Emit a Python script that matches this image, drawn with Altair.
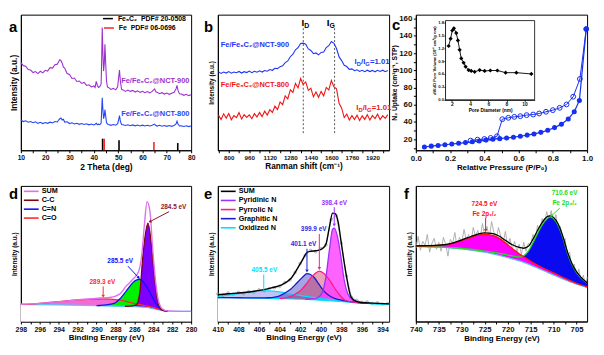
import altair as alt
import pandas as pd

FONT = "Liberation Sans"
H = 137
W_A = 172
W_B = 173

# ---------------- (a) XRD ----------------
xrd_theta = [10, 11, 12, 13, 14, 15, 16, 17, 18, 19, 20, 21, 22, 23, 24, 25,
             25.5, 26, 26.5, 27, 27.5, 28,
             29, 30, 31, 32, 33, 34, 35, 36, 37, 38, 39, 40,
             40.5, 41, 41.5, 42, 42.5, 43,
             43.25, 43.45, 43.7, 44, 44.3, 44.55, 44.8, 45.2, 45.6, 46,
             47, 48, 49,
             49.8, 50.3, 50.55, 50.9, 51.4, 52,
             53, 54, 55, 56, 57, 58, 59, 60, 61, 62, 63, 64, 65,
             65.5,
             66, 67, 68, 69, 70, 71, 72, 73,
             73.8, 74.2, 74.6, 75.2,
             76, 77, 78, 79, 80]
xrd_nct900 = [88.5, 85.5, 85, 81.5, 81, 78.5, 79.5, 77.5, 79.8, 78.2, 80.8, 80, 83.5, 83, 86.5, 87,
              89.5, 91.5, 90.5, 88, 84, 83,
              77.5, 76.5, 72.5, 73, 69.5, 70, 67.5, 68.5, 65.5, 66.2, 64, 65,
              63.5, 69.5, 65, 63.5, 64.5, 67,
              95, 124, 100, 80, 88, 107, 92, 70, 64, 63.5,
              61.5, 62.5, 61,
              64, 76, 81, 70, 61.5, 61,
              59.5, 60.8, 59.5, 60.5, 58.8, 60, 58.5, 59.5, 58.2, 59.3, 58, 59.5, 62,
              59,
              58.5, 57.2, 58.2, 56.8, 57.8, 56.5, 57.6, 58.5,
              62, 65.5, 60.5, 57,
              56.8, 55.5, 56.5, 55.2, 56]
xrd_nct800 = [30.5, 29, 29.8, 28.3, 29, 27.8, 28.7, 27.2, 28.3, 27, 28, 27.2, 28.4, 27.6, 29, 28.6,
              30.5, 31.8, 32.5, 30.5, 31.2, 28.5,
              28.8, 27, 27.8, 26.5, 27.3, 26.2, 27, 26, 26.8, 25.7, 26.5, 25.6,
              26.3, 27.2, 25.8, 26.4, 25.9, 27.5,
              42, 53, 42, 32, 35, 41, 36, 28, 26.5, 26,
              25.2, 26, 25.3,
              26.8, 32, 35, 29.5, 26, 25.7,
              25, 25.8, 24.8, 25.6, 24.7, 25.5, 24.6, 25.4, 24.5, 25.3, 24.6, 25.2, 26.4,
              25,
              24.4, 25.2, 24.3, 25, 24.2, 25, 24.2, 25,
              26.5, 29.3, 26.5, 24.5,
              24.8, 24, 24.8, 23.9, 24.5]
fe5c2_pos = [43.6, 50.35, 74.5]
fe5c2_h = [11.7, 10.0, 7.3]
fe_pos = [44.25, 64.7]
fe_h = [11.7, 8.3]

# ---------------- (b) Raman ----------------
raman_x = list(range(720, 2041, 20))
raman_nct900 = [79.2, 77.6, 79.0, 78.0, 79.5, 77.9, 79.1, 78.3, 79.6, 78.0,
                79.4, 78.5, 80.0, 78.4, 79.8, 78.8, 80.2, 79.0, 80.6, 79.8,
                81.5, 80.8, 82.8, 82.5, 84.5, 85.3, 88.6, 90.2, 94.5, 97.0,
                101.5, 103.6, 107.8, 108.2, 107.2, 102.4, 100.8, 97.6, 98.3, 96.4,
                98.8, 99.2, 103.8, 105.6, 109.8, 108.0, 102.8, 94.3, 90.6, 85.8,
                84.6, 81.8, 82.2, 80.4, 81.3, 79.6, 80.8, 79.4, 80.9, 79.5,
                80.7, 79.3, 80.8, 79.6, 80.9, 79.4, 80.6]
raman_nct800 = [35.5, 31.0, 36.8, 32.5, 37.2, 30.8, 35.0, 33.0, 38.0, 31.5,
                36.0, 33.2, 35.8, 31.9, 37.0, 33.5, 38.2, 34.0, 39.5, 35.6,
                41.0, 38.2, 44.5, 41.0, 48.8, 46.0, 55.0, 52.0, 61.0, 58.5,
                67.5, 63.0, 72.5, 66.5, 69.0, 60.5, 62.8, 54.0, 59.0, 53.5,
                59.5, 55.0, 63.5, 61.0, 70.5, 64.0, 62.0, 47.5, 42.5, 33.0,
                36.5, 30.5, 35.0, 31.0, 35.5, 30.0, 34.8, 31.2, 36.0, 30.5,
                35.2, 32.0, 36.5, 31.0, 35.0, 32.2, 36.0]
band_d = 1381
band_g = 1625

# ---------------- (c) N2 isotherm + pore size ----------------
ads_p = [0.05, 0.09, 0.13, 0.17, 0.21, 0.25, 0.29, 0.33, 0.37, 0.41, 0.45, 0.49, 0.53,
         0.57, 0.61, 0.65, 0.69, 0.73, 0.77, 0.81, 0.85, 0.89, 0.925, 0.955, 0.995]
ads_v = [11, 12, 12.8, 13.6, 14.5, 15.3, 16.1, 17, 18, 19, 20, 20.7, 21.5,
         22.4, 23.5, 24.8, 26.2, 28, 30.5, 33.5, 37.5, 43.5, 52, 65, 148]
des_p = [0.995, 0.958, 0.919, 0.88, 0.84, 0.80, 0.76, 0.72, 0.685, 0.647, 0.61, 0.575,
         0.54, 0.505, 0.474, 0.437, 0.40, 0.36, 0.32]
des_v = [148, 90, 69.4, 60.4, 56.5, 53.8, 51.9, 49.9, 48.7, 48, 46.8, 46,
         44.9, 43.3, 23.5, 21.5, 20.3, 19.5, 18.4]
pore_d = [1.64, 1.86, 2.04, 2.22, 2.48, 2.66, 2.85, 3.03, 3.29, 3.51, 3.84, 4.13, 4.5,
          5.05, 5.6, 6.23, 7.0, 7.91, 9.09, 10.74]
pore_v = [1.25, 1.42, 1.61, 1.66, 1.55, 1.38, 1.16, 0.96, 0.86, 0.77, 0.69, 0.67, 0.65,
          0.69, 0.67, 0.68, 0.68, 0.63, 0.63, 0.60]

# ---------------- (d) C 1s ----------------
c_base_x = [298, 294, 290, 288, 286, 285, 284.5, 284, 283.5, 283, 282, 280]
c_base_y = [17.3, 16.8, 16.0, 15.5, 15.0, 14.5, 14.0, 13.0, 12.0, 11.0, 10.4, 10.3]
co_x = [298, 297, 296, 295, 294, 293, 292, 291, 290, 289.3, 288.6, 288, 287.5, 287,
        286.5, 286, 285.5, 285, 284.5, 284, 283.5, 283, 282.5]
co_y = [17.3, 17.6, 18.3, 19.2, 20.1, 21.0, 21.8, 22.4, 22.7, 22.8, 22.6, 22.2, 21.5, 20.6,
        19.4, 18.2, 17.2, 16.3, 15.3, 14.0, 12.6, 11.3, 10.6]
cn_x = [290, 289.64, 288.5, 288, 287.55, 286.85, 286.16, 285.8, 285.53, 285.2, 284.77,
        284.4, 284.07, 283.8, 283.55, 283.3, 283.03, 282.5]
cn_y = [16.0, 16.2, 17.6, 19.0, 22.7, 31.0, 39.3, 41.8, 42.7, 41.5, 36.0,
        30.0, 24.3, 19.5, 16.0, 13.5, 11.7, 10.5]
cc_x = [287, 286.5, 286, 285.8, 285.6, 285.4, 285.12, 284.84, 284.56, 284.24, 283.9,
        283.55, 283.2, 283, 282.5]
cc_y = [15.4, 15.6, 16.3, 17.0, 20.5, 31.0, 64.3, 87.7, 99.3, 81.0, 47.7,
        21.0, 12.7, 11.3, 10.5]
csum_x = [298, 296, 294, 292, 290.5, 289.64, 288.6, 287.55, 286.85, 286.16, 285.53, 285.18,
          284.94, 284.66, 284.35, 284.07, 283.8, 283.45, 283.03, 282.5, 281, 280]
csum_y = [17.4, 18.3, 20.0, 21.9, 23.0, 23.7, 24.3, 27.7, 36.0, 42.7, 51.0, 71.0,
          97.7, 121.0, 111.0, 74.3, 44.3, 21.0, 12.7, 10.8, 10.3, 10.3]

# ---------------- (e) N 1s ----------------
n_base_x = [410, 408, 406, 404, 402, 400, 398.5, 397, 396, 395, 393.36]
n_base_y = [24.2, 24.0, 23.6, 23.1, 22.5, 21.6, 20.6, 19.4, 18.6, 18.0, 17.5]
oxi_x = [410, 409, 408, 407, 406.2, 405.6, 405, 404.2, 403.4, 402.6, 401.8, 401, 400,
         399, 398, 397, 396, 395, 393.36]
oxi_y = [25.5, 26.8, 28.2, 29.6, 30.6, 31.0, 30.9, 30.2, 29.0, 27.5, 26.0, 24.7, 23.2,
         22.0, 21.0, 19.8, 18.9, 18.2, 17.5]
gra_x = [410, 408, 406, 405, 404.5, 404, 403.54, 403, 402.5, 402, 401.6, 401.34, 401,
         400.6, 400.2, 399.8, 399.3, 398.8, 398.2, 397.5, 396.5, 395.5]
gra_y = [24.2, 24.0, 23.8, 24.0, 24.6, 26.0, 28.4, 32.0, 37.0, 42.5, 46.5, 48.4, 47.5,
         44.0, 38.0, 32.0, 27.0, 24.0, 22.0, 20.5, 19.3, 18.4]
pyr_x = [404, 403, 402.5, 401.92, 401.4, 400.95, 400.5, 400.14, 399.75, 399.33, 398.9,
         398.53, 398.1, 397.72, 397.2, 396.5, 395.5]
pyr_y = [23.1, 25.0, 27.5, 31.7, 38.0, 44.4, 49.0, 51.0, 49.0, 44.4, 38.0,
         31.7, 26.0, 22.0, 20.0, 19.2, 18.3]
pyd_x = [401.5, 400.8, 400.3, 399.82, 399.5, 399.17, 398.85, 398.69, 398.36, 398.04,
         397.72, 397.39, 396.9, 396.4, 395.5]
pyd_y = [22.4, 22.8, 24.0, 30.0, 45.0, 71.7, 93.4, 94.4, 85.0, 65.0,
         41.7, 28.4, 21.7, 19.8, 18.5]
nsum_x = [410, 409, 407.7, 405.8, 404.8, 403.86, 402.9, 401.9, 401.3, 400.95, 400.5, 400.1,
          399.8, 399.5, 399.17, 398.85, 398.6, 398.3, 398.04, 397.55, 397.07, 396.6, 396.1,
          395, 393.36]
nsum_y = [27.0, 28.0, 29.0, 31.7, 34.0, 36.7, 43.4, 60.0, 70.0, 71.0, 71.5, 72.4,
          74.0, 78.0, 95.0, 109.5, 109.0, 100.0, 81.7, 48.4, 25.0, 20.5, 19.2,
          18.6, 17.8]
nraw_x = [410, 409.5, 409, 408.5, 408, 407.5, 407, 406.5, 406, 405.5, 405, 404.5, 404,
          403.5, 403, 402.5, 402, 401.5, 401, 400.5, 400, 399.5, 399, 398.5, 398, 397.5,
          397, 396.5, 396, 395.5, 395, 394.5, 394, 393.5]
nraw_y = [27.8, 26.5, 28.9, 27.6, 29.4, 28.2, 30.3, 29.8, 31.9, 31.0, 33.2, 34.1, 35.5,
          39.2, 42.0, 49.5, 58.5, 66.8, 71.8, 70.6, 73.5, 77.5, 103, 107, 79, 46,
          24.5, 21.4, 19.4, 19.8, 18.1, 18.9, 17.5, 18.2]

# ---------------- (f) Fe 2p ----------------
fe_x = [740, 737.5, 735, 732.5, 730, 728, 726.5, 725, 723.5, 722, 720.5, 719, 717.5,
        716.5, 715.5, 714.5, 713.5, 712.5, 711.5, 710.8, 710, 709, 708, 707, 706, 705,
        704, 702.7]
fe_bg = [75.8, 75.4, 75.0, 74.3, 73.3, 72.1, 71.0, 70.0, 68.6, 67.0, 65.2, 63.3, 61.3,
         59.8, 58.0, 56.0, 54.0, 52.0, 50.0, 48.6, 47.0, 45.0, 43.0, 41.2, 39.4, 37.8,
         36.3, 34.7]
fe_2p12 = [76.3, 76.4, 76.8, 78.3, 81.8, 85.0, 87.2, 88.0, 87.3, 84.5, 79.5, 73.8, 68.5,
           65.5, 62.5, 59.5, 57.0, 54.6, 52.4, 50.9, 49.2, 47.0, 44.7, 42.6, 40.5, 38.6,
           36.9, 34.9]
fe_2p32 = [76.0, 75.7, 75.3, 74.7, 74.0, 73.0, 72.0, 71.2, 70.2, 69.0, 67.7, 66.3, 65.2,
           66.5, 71.0, 79.5, 89.0, 97.5, 103.5, 105.7, 104.0, 97.0, 85.0, 69.5, 57.5, 49.5,
           44.0, 39.0]
fe_sum = [76.5, 76.7, 77.1, 78.7, 82.5, 85.9, 88.2, 89.5, 89.0, 86.6, 82.0, 77.5, 74.8,
          74.0, 76.0, 83.0, 92.0, 100.0, 105.5, 106.8, 105.2, 98.5, 86.5, 70.8, 58.6, 50.3,
          44.6, 39.2]
fe_raw_x = [740, 739.5, 739, 738.5, 738, 737.5, 737, 736.5, 736, 735.5,
            735, 734.5, 734, 733.5, 733, 732.5, 732, 731.5, 731, 730.5,
            730, 729.5, 729, 728.5, 728, 727.5, 727, 726.5, 726, 725.5,
            725, 724.5, 724, 723.5, 723, 722.5, 722, 721.5, 721, 720.5,
            720, 719.5, 719, 718.5, 718, 717.5, 717, 716.5, 716, 715.5,
            715, 714.5, 714, 713.5, 713, 712.5, 712, 711.5, 711, 710.5,
            710, 709.5, 709, 708.5, 708, 707.5, 707, 706.5, 706, 705.5,
            705, 704.5, 704, 703.5, 703, 702.7]
fe_raw_y = [74, 86, 72, 81, 77, 88, 70, 79, 84, 73,
            80, 71, 85, 78, 66, 83, 79, 90, 74, 85,
            80, 93, 82, 88, 79, 95, 86, 92, 83, 99,
            87, 96, 84, 101, 90, 82, 95, 86, 79, 91,
            76, 84, 73, 81, 70, 78, 68, 80, 71, 79,
            77, 88, 82, 97, 90, 104, 98, 111, 103, 112,
            99, 108, 92, 96, 80, 84, 66, 70, 53, 58,
            44, 53, 40, 47, 34, 45]

# ---------------- colours ----------------
PURPLE = "#9B30D0"
BLUE_A = "#2846F5"
BLUE_B = "#2035F5"
RED_B = "#F01515"
BLUE_C = "#1730F0"


# ---------------- helpers ----------------
def xaxis(values, major, title, lsize, tsize, fmt="datum.label"):
    return alt.Axis(values=values, title=title, labelExpr=f"({major}) ? {fmt} : ''",
                    tickSize=2.5, labelOverlap=False, labelFlush=False, grid=False,
                    labelFontSize=lsize, titleFontSize=tsize, labelPadding=1.5,
                    titlePadding=1.5)


def yblank(tsize, pad=3):
    return alt.Axis(title="Intensity (a.u.)", labels=False, ticks=False, grid=False,
                    titleFontSize=tsize, titlePadding=pad)


def lines(xs, ys, color, E, width=1.0, interp=None, dash=None, opacity=1.0):
    kw = dict(color=color, strokeWidth=width, opacity=opacity)
    if interp:
        kw["interpolate"] = interp
    if dash:
        kw["strokeDash"] = dash
    return alt.Chart(pd.DataFrame({"x": xs, "y": ys})).mark_line(**kw).encode(**E)


def area(xs, ys, color, E, opacity=1.0, y2s=None, interp="monotone"):
    d = {"x": xs, "y": ys}
    enc = dict(E)
    if y2s is not None:
        d["y2"] = y2s
        enc["y2"] = alt.Y2("y2:Q")
    return alt.Chart(pd.DataFrame(d)).mark_area(color=color, opacity=opacity,
                                                interpolate=interp).encode(**enc)


def pts(xs, ys, color, E, shape="circle", size=26, filled=True, sw=1.0):
    return alt.Chart(pd.DataFrame({"x": xs, "y": ys})).mark_point(
        shape=shape, size=size, filled=filled, color=color, opacity=1,
        strokeWidth=sw).encode(**E)


def sticks(pos, hs, color, E):
    d = pd.DataFrame({"x": pos, "y": [0] * len(pos), "y2": hs})
    return alt.Chart(d).mark_rule(color=color, strokeWidth=1.6).encode(
        x=E["x"], y=E["y"], y2="y2:Q")


def txt(x, y, s, color, size, E, align="center", baseline="middle", dx=0, dy=0):
    return alt.Chart(pd.DataFrame({"x": [x], "y": [y], "t": [s]})).mark_text(
        color=color, fontSize=size, font=FONT, fontWeight="bold", align=align,
        baseline=baseline, dx=dx, dy=dy).encode(x=E["x"], y=E["y"], text="t:N")


def ptxt(px, py, s, color, size, align="left", baseline="middle"):
    return alt.Chart(pd.DataFrame({"t": [s]})).mark_text(
        color=color, fontSize=size, font=FONT, fontWeight="bold", align=align,
        baseline=baseline).encode(x=alt.value(px), y=alt.value(py), text="t:N")


def prule(x1, x2, py, color, width=1.5):
    return alt.Chart(pd.DataFrame({"k": [0]})).mark_rule(
        color=color, strokeWidth=width).encode(x=alt.value(x1), x2=alt.value(x2),
                                               y=alt.value(py))


def seg(x1, y1, x2, y2, color, E, width=1.0, dash=None):
    kw = dict(color=color, strokeWidth=width)
    if dash:
        kw["strokeDash"] = dash
    d = pd.DataFrame({"x": [x1], "y": [y1], "x2": [x2], "y2": [y2]})
    return alt.Chart(d).mark_rule(**kw).encode(x=E["x"], y=E["y"], x2="x2:Q", y2="y2:Q")


def head(x, y, angle, color, E, size=12):
    return alt.Chart(pd.DataFrame({"x": [x], "y": [y]})).mark_point(
        shape="triangle-up", angle=angle, filled=True, color=color, size=size,
        opacity=1).encode(x=E["x"], y=E["y"])


def legend(entries, y0, dy, x1=3, x2=18, xt=21, size=7.3):
    out = []
    for i, (lab, col) in enumerate(entries):
        yy = y0 + i * dy
        out.append(prule(x1, x2, yy, col, 1.6))
        out.append(ptxt(xt, yy, lab, "black", size))
    return out


# ---------------- panels ----------------
def panel_a():
    X = alt.X("x:Q", scale=alt.Scale(domain=[10, 80], nice=False, zero=False),
              axis=xaxis(list(range(10, 81, 5)), "datum.value % 10 == 0",
                         "2 Theta (deg)", 6.8, 8.5))
    Y = alt.Y("y:Q", scale=alt.Scale(domain=[0, H], nice=False, zero=False),
              axis=yblank(8.4, 2.5))
    E = dict(x=X, y=Y)
    L = [
        lines(xrd_theta, xrd_nct900, PURPLE, E, 1.1),
        lines(xrd_theta, xrd_nct800, BLUE_A, E, 1.1),
        sticks(fe5c2_pos, fe5c2_h, "black", E),
        sticks(fe_pos, fe_h, "#FF2020", E),
        txt(79.3, 70, "Fe/Fe₅C₂@NCT-900", PURPLE, 7.5, E, align="right"),
        txt(79.3, 36.7, "Fe/Fe₅C₂@NCT-800", BLUE_A, 7.5, E, align="right"),
        prule(83, 93, 4, "black", 1.5),
        ptxt(98, 4, "Fe₅C₂\u00a0\u00a0PDF# 20-0508", "black", 7),
        prule(84, 94, 13.5, "#FF2020", 1.5),
        ptxt(99, 13.5, "Fe\u00a0\u00a0PDF# 06-0696", "black", 7),
        ptxt(-12, 18, "a", "black", 15, baseline="alphabetic"),
    ]
    return alt.layer(*L).properties(width=W_A, height=H)


def ratio(x, y, color, E):
    parts = [("I", 7.8, 0, 0), ("D", 5.8, 2.3, 2), ("/I", 7.8, 6.6, 0),
             ("G", 5.8, 11.0, 2), ("=1.01", 7.8, 15.7, 0)]
    return [txt(x, y, s, color, fs, E, align="left", dx=dx, dy=dy) for s, fs, dx, dy in parts]


def panel_b():
    X = alt.X("x:Q", scale=alt.Scale(domain=[715, 2050], nice=False, zero=False),
              axis=xaxis(list(range(720, 2041, 80)), "(datum.value - 800) % 160 == 0",
                         "Ranman shift (cm⁻¹)", 6.3, 8.3,
                         fmt="format(datum.value, 'd')"))
    Y = alt.Y("y:Q", scale=alt.Scale(domain=[0, H], nice=False, zero=False),
              axis=yblank(6.5))
    E = dict(x=X, y=Y)
    L = [
        seg(band_d, 17.3, band_d, 124, "#555555", E, 1.0, [2, 2]),
        seg(band_g, 17.3, band_g, 124, "#555555", E, 1.0, [2, 2]),
        lines(raman_x, raman_nct900, BLUE_B, E, 1.1),
        lines(raman_x, raman_nct800, RED_B, E, 1.1),
        txt(band_d, 129, "I", "black", 10, E, align="right", dx=1),
        txt(band_d, 129, "D", "black", 7, E, align="left", dx=1, dy=3),
        txt(1577, 129, "I", "black", 10, E, align="right", dx=1),
        txt(1577, 129, "G", "black", 7, E, align="left", dx=1, dy=3),
        txt(738, 106.3, "Fe/Fe₅C₂@NCT-900", BLUE_B, 7.5, E, align="left"),
        txt(738, 66.3, "Fe/Fe₅C₂@NCT-800", RED_B, 7.5, E, align="left"),
        ptxt(-14, 18, "b", "black", 15, baseline="alphabetic"),
    ]
    L += ratio(1780, 89, BLUE_B, E)
    L += ratio(1793, 42.3, RED_B, E)
    return alt.layer(*L).properties(width=W_B, height=H)


def panel_c():
    X = alt.X("x:Q", scale=alt.Scale(domain=[0, 1], nice=False, zero=False),
              axis=xaxis([0, 0.1, 0.2, 0.3, 0.4, 0.5, 0.6, 0.7, 0.8, 0.9, 1.0],
                         "abs(datum.value*5 - round(datum.value*5)) < 0.001",
                         "Relative Pressure (P/P₀)", 8, 8,
                         fmt="format(datum.value, '.1f')"))
    Y = alt.Y("y:Q", scale=alt.Scale(domain=[7.2, 164.7], nice=False, zero=False),
              axis=alt.Axis(values=list(range(10, 161, 10)),
                            labelExpr="datum.value % 20 == 0 ? datum.label : ''",
                            title="N₂ Uptake (cm³g⁻¹, STP)", tickSize=2.5,
                            labelFontSize=8, titleFontSize=6.8, labelPadding=1.5,
                            titlePadding=1.5, grid=False, labelOverlap=False,
                            labelFlush=False))
    E = dict(x=X, y=Y)
    main = alt.layer(
        lines(ads_p, ads_v, BLUE_C, E, 1.2),
        lines(des_p, des_v, BLUE_C, E, 1.0),
        pts(des_p, des_v, BLUE_C, E, filled=False, size=24, sw=1.0),
        pts(ads_p, ads_v, BLUE_C, E, filled=True, size=26),
        ptxt(-24, 16, "c", "black", 15, baseline="alphabetic"),
    )
    XI = alt.X("x:Q", scale=alt.Scale(domain=[1.3, 11.1], range=[30, 120], nice=False,
                                      zero=False),
               axis=alt.Axis(orient="bottom", offset=-51, values=[2, 4, 6, 8, 10],
                             title="Pore Diameter (nm)", labelFontSize=5,
                             titleFontSize=4.8, tickSize=1.5, labelPadding=0.5,
                             titlePadding=0.8, labelFlush=False, labelOverlap=False,
                             grid=False))
    YI = alt.Y("y:Q", scale=alt.Scale(domain=[0, 1.84], range=[86, 6], nice=False,
                                      zero=False),
               axis=alt.Axis(orient="left", offset=-30,
                             values=[0.0, 0.3, 0.6, 0.9, 1.2, 1.5, 1.8], format=".1f",
                             title="dV/dD Pore Volume (10⁻² cm³/g nm)", labelFontSize=4.3,
                             titleFontSize=4.2, tickSize=1.5, labelPadding=0.5,
                             titlePadding=1, labelFlush=False, labelOverlap=False,
                             grid=False))
    EI = dict(x=XI, y=YI)
    box = alt.Chart(pd.DataFrame({"k": [0]})).mark_rect(
        fill="white", stroke="black", strokeWidth=0.8).encode(
        x=alt.value(30), x2=alt.value(120), y=alt.value(6), y2=alt.value(86))
    inset = alt.layer(
        box,
        lines(pore_d, pore_v, "black", EI, 0.9),
        pts(pore_d, pore_v, "black", EI, shape="diamond", size=18, filled=True),
    )
    return alt.layer(main, inset).resolve_scale(x="independent", y="independent").properties(
        width=W_B, height=H)


def panel_d():
    X = alt.X("x:Q", scale=alt.Scale(domain=[280, 298], reverse=True, nice=False, zero=False),
              axis=xaxis(list(range(280, 299)), "datum.value % 2 == 0",
                         "Binding Energy (eV)", 7, 8))
    Y = alt.Y("y:Q", scale=alt.Scale(domain=[0, H], nice=False, zero=False),
              axis=yblank(6.5, 3.5))
    E = dict(x=X, y=Y)
    L = [
        area(co_x, co_y, "#F46AD6", E),
        area(cn_x, cn_y, "#00F000", E),
        area(cc_x, cc_y, "#7F00FF", E),
        area(c_base_x, c_base_y, "white", E),
        lines(c_base_x, c_base_y, "#55C8FF", E, 1.2, "monotone"),
        lines(co_x, co_y, "#FF2A2A", E, 1.3, "monotone"),
        lines(cn_x, cn_y, "#1010FF", E, 1.3, "monotone"),
        lines(cc_x, cc_y, "#7A0A0A", E, 1.3, "monotone"),
        lines(csum_x, csum_y, "#E070F0", E, 1.4, "monotone"),
        txt(281.86, 116, "284.5 eV", "#8B1A1A", 6.5, E),
        seg(282.33, 111, 284.2, 101.7, "#8B1A1A", E, 1.0),
        head(284.35, 101, 242.6, "#8B1A1A", E),
        txt(287.5, 61, "285.5 eV", "#1010FF", 6.5, E),
        seg(286.69, 56, 285.65, 45.3, "#1010FF", E, 1.0),
        head(285.54, 44.3, 136.7, "#1010FF", E),
        txt(289.38, 40, "289.3 eV", "#FF2A2A", 6.5, E),
        seg(289.3, 35.5, 289.3, 27, "#FF2A2A", E, 1.0),
        head(289.3, 25.5, 180, "#FF2A2A", E),
        ptxt(-12, 13, "d", "black", 15, baseline="alphabetic"),
    ]
    L += legend([("SUM", "#E070F0"), ("C-C", "#7A0A0A"), ("C=N", "#1010FF"),
                 ("C=O", "#FF2A2A")], 5.5, 9)
    return alt.layer(*L).properties(width=W_A, height=H)


def panel_e():
    X = alt.X("x:Q", scale=alt.Scale(domain=[393.36, 410], reverse=True, nice=False,
                                     zero=False),
              axis=xaxis(list(range(394, 411)), "datum.value % 2 == 0",
                         "Binding Energy (eV)", 7, 8))
    Y = alt.Y("y:Q", scale=alt.Scale(domain=[0, H], nice=False, zero=False),
              axis=yblank(6.5, 3.5))
    E = dict(x=X, y=Y)
    VIO = "#9B30FF"
    PNK = "#FF1A8C"
    BLU = "#1A1AD0"
    CYA = "#00E0FF"
    L = [
        area(oxi_x, oxi_y, "#9A9AF0", E, 0.6),
        area(gra_x, gra_y, "#3838B8", E, 0.45),
        area(pyr_x, pyr_y, "#D03060", E, 0.45),
        area(pyd_x, pyd_y, "#FF3CFF", E, 0.8),
        area(n_base_x, n_base_y, "white", E),
        lines(nraw_x, nraw_y, "#9A9A9A", E, 0.6),
        pts(nraw_x, nraw_y, "#8A8A8A", E, size=7, filled=False, sw=0.6),
        lines(n_base_x, n_base_y, CYA, E, 1.2, "monotone"),
        lines(oxi_x, oxi_y, CYA, E, 1.3, "monotone"),
        lines(gra_x, gra_y, BLU, E, 1.3, "monotone"),
        lines(pyr_x, pyr_y, PNK, E, 1.3, "monotone"),
        lines(pyd_x, pyd_y, VIO, E, 1.3, "monotone"),
        lines(nsum_x, nsum_y, "black", E, 1.4, "monotone"),
        txt(398.69, 119.4, "398.4 eV", VIO, 6.5, E),
        seg(398.69, 115.5, 398.69, 99, VIO, E, 1.0),
        head(398.69, 97.5, 180, VIO, E),
        txt(400.69, 93.4, "399.9 eV", "#2828E0", 6.5, E),
        seg(400.14, 88.5, 400.14, 55, PNK, E, 1.0),
        head(400.14, 53.5, 180, PNK, E),
        txt(401.68, 78.4, "401.1 eV", "#2828E0", 6.5, E),
        seg(401.34, 73.5, 401.34, 52.5, BLU, E, 1.0),
        head(401.34, 51, 180, BLU, E),
        txt(405.48, 51.7, "405.5 eV", CYA, 6.5, E),
        seg(405.54, 47.5, 405.54, 31.5, CYA, E, 1.0),
        ptxt(-14, 13, "e", "black", 15, baseline="alphabetic"),
    ]
    L += legend([("SUM", "black"), ("Pyridinic N", VIO), ("Pyrrolic N", PNK),
                 ("Graphitic N", BLU), ("Oxidized N", CYA)], 5.5, 9.2)
    return alt.layer(*L).properties(width=W_B, height=H)


def panel_f():
    X = alt.X("x:Q", scale=alt.Scale(domain=[702.7, 740], reverse=True, nice=False,
                                     zero=False),
              axis=xaxis([705, 707.5, 710, 712.5, 715, 717.5, 720, 722.5, 725, 727.5,
                          730, 732.5, 735, 737.5, 740], "datum.value % 5 == 0",
                         "Binding Energy (eV)", 7.8, 8))
    Y = alt.Y("y:Q", scale=alt.Scale(domain=[0, H], nice=False, zero=False),
              axis=yblank(6.6, 3.5))
    E = dict(x=X, y=Y)
    idx = [i for i, v in enumerate(fe_x) if v <= 716.5]
    bx = [fe_x[i] for i in idx]
    bg_top = [fe_2p32[i] for i in idx]
    bg_bot = [fe_2p12[i] for i in idx]
    RED = "#FF1010"
    GRN = "#22DD22"
    L = [
        lines(fe_raw_x, fe_raw_y, "#A8A8A8", E, 0.9),
        area(fe_x, fe_2p12, "#FF00FF", E, 1.0, y2s=fe_bg),
        area(bx, bg_top, "#0A0AF0", E, 1.0, y2s=bg_bot),
        lines(fe_x, fe_bg, "#60B8FF", E, 1.2, "monotone"),
        lines(fe_x, fe_2p32, GRN, E, 1.3, "monotone"),
        lines(fe_x, fe_2p12, RED, E, 1.3, "monotone"),
        lines(fe_x, fe_sum, "black", E, 1.3, "monotone"),
        txt(725.06, 119, "724.5 eV", RED, 6.5, E),
        txt(725.06, 109, "Fe 2p₁/₂", RED, 6.5, E),
        seg(724.8, 104.5, 724.8, 93.5, RED, E, 1.0),
        head(724.8, 92, 180, RED, E),
        txt(707.6, 130, "710.6 eV", GRN, 6.5, E),
        txt(707.6, 119.5, "Fe 2p₃/₂", GRN, 6.5, E),
        seg(708.66, 114.5, 710.3, 107.5, GRN, E, 1.0),
        head(710.5, 106.7, 226.4, GRN, E),
        ptxt(-12, 13, "f", "black", 15, baseline="alphabetic"),
    ]
    return alt.layer(*L).properties(width=W_B, height=H)


chart = alt.concat(
    panel_a(), panel_b(), panel_c(), panel_d(), panel_e(), panel_f(),
    columns=3, spacing={"row": 36, "column": 27}, bounds="flush",
).properties(
    padding={"left": 0, "top": 4, "right": 2, "bottom": 0}, background="white"
).configure_view(
    stroke="black", strokeWidth=1
).configure_axis(
    domainColor="black", domainWidth=1, tickColor="black", tickWidth=1,
    labelFont=FONT, labelFontWeight="bold", labelColor="#111111",
    titleFont=FONT, titleFontWeight="bold", titleColor="black", grid=False, zindex=1
)

chart.save("out.html", embed_options={"renderer": "svg", "actions": False})
